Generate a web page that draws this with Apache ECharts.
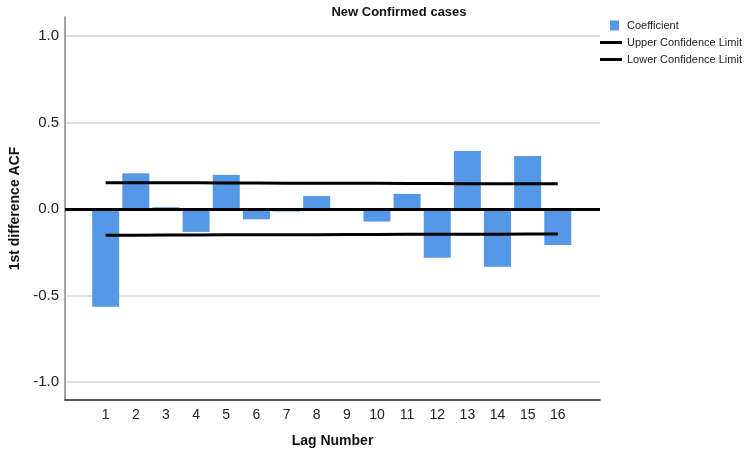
<!DOCTYPE html>
<html><head><meta charset="utf-8">
<script src="https://cdn.jsdelivr.net/npm/echarts@6/dist/echarts.min.js"></script>
<style>html,body{margin:0;padding:0;background:#fff}#c{width:750px;height:455px}</style>
</head><body><div id="c"></div>
<script>
const lags = [1,2,3,4,5,6,7,8,9,10,11,12,13,14,15,16];
const coefficient = [-0.565,0.206,0.01,-0.133,0.197,-0.06,-0.015,0.075,0,-0.073,0.087,-0.283,0.335,-0.335,0.306,-0.208];
const upperLimit = [0.152,0.152,0.151,0.151,0.150,0.150,0.149,0.149,0.148,0.148,0.147,0.147,0.146,0.146,0.145,0.145];
const lowerLimit = [-0.152,-0.152,-0.151,-0.151,-0.150,-0.150,-0.149,-0.149,-0.148,-0.148,-0.147,-0.147,-0.146,-0.146,-0.145,-0.145];
const yTicks = [-1.0,-0.5,0.0,0.5,1.0];

const font = "Arial, 'Liberation Sans', sans-serif";
const chart = echarts.init(document.getElementById('c'), null, {renderer:'canvas'});
chart.setOption({
  animation:false,
  title:{text:'New Confirmed cases', left:394, top:1, textAlign:'center',
    textStyle:{fontFamily:font, fontSize:13, fontWeight:'bold', color:'#111'}},
  legend:{orient:'vertical', left:600, top:20, padding:0, itemGap:6, itemWidth:22, itemHeight:12,
    textStyle:{fontFamily:font, fontSize:11, color:'#222'},
    data:[
      {name:'Coefficient', icon:'path://M0,0 L0,0 M10,0 L19,0 L19,10 L10,10 Z M22,0 L22,0'},
      {name:'Upper Confidence Limit', icon:'path://M0,4 L22,4 L22,7 L0,7 Z'},
      {name:'Lower Confidence Limit', icon:'path://M0,4 L22,4 L22,7 L0,7 Z'}
    ]},
  grid:{left:64, right:150, top:17, bottom:55, containLabel:false},
  xAxis:{type:'value', min:-0.35, max:17.4,
    name:'Lag Number', nameLocation:'middle', nameGap:34,
    nameTextStyle:{fontFamily:font, fontSize:14, fontWeight:'bold', color:'#111'},
    axisLine:{show:true, onZero:false, lineStyle:{color:'#222', width:1.5}},
    axisTick:{show:false, customValues:lags},
    axisLabel:{customValues:lags, fontFamily:font, fontSize:14, color:'#222', margin:8},
    splitLine:{show:false}},
  yAxis:{type:'value', min:-1.105, max:1.11,
    name:'1st difference ACF', nameLocation:'middle', nameGap:43, nameRotate:90,
    nameTextStyle:{fontFamily:font, fontSize:14, fontWeight:'bold', color:'#111'},
    axisLine:{show:true, onZero:false, lineStyle:{color:'#888', width:1.5}},
    axisTick:{show:false, customValues:yTicks},
    axisLabel:{customValues:yTicks, fontFamily:font, fontSize:15, color:'#222', margin:6,
      formatter:v=>v.toFixed(1)},
    splitLine:{show:true, lineStyle:{color:'#d4d4d4', width:1.5}}},
  series:[
    {name:'Coefficient', type:'bar', barWidth:27,
      data:lags.map((l,i)=>[l,coefficient[i]]),
      itemStyle:{color:'#5598e6'},
      markLine:{silent:true, symbol:'none', label:{show:false},
        lineStyle:{color:'#000', width:3, type:'solid'},
        data:[{yAxis:0}]}},
    {name:'Upper Confidence Limit', type:'line', symbol:'none',
      data:lags.map((l,i)=>[l,upperLimit[i]]),
      lineStyle:{color:'#000', width:3}, itemStyle:{color:'#000'}, z:5},
    {name:'Lower Confidence Limit', type:'line', symbol:'none',
      data:lags.map((l,i)=>[l,lowerLimit[i]]),
      lineStyle:{color:'#000', width:3}, itemStyle:{color:'#000'}, z:5}
  ]
});
</script></body></html>
